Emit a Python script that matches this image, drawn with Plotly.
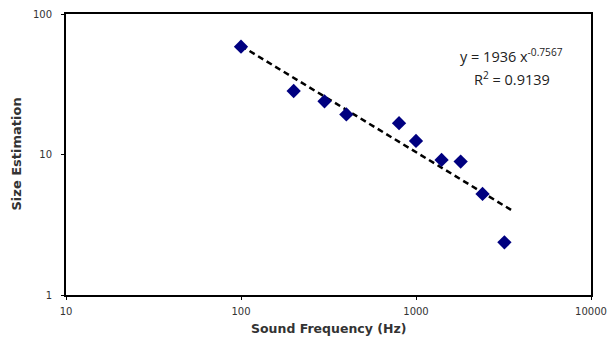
import numpy as np
import plotly.graph_objects as go

freq_hz = [100, 200, 300, 400, 800, 1000, 1400, 1800, 2400, 3200]
size_est = [58.5, 28.3, 23.9, 19.3, 16.7, 12.5, 9.15, 8.9, 5.24, 2.37]
fit_a = 1936
fit_b = -0.7567
r_squared = 0.9139
fit_range = [100, 3500]
x_ticks = [10, 100, 1000, 10000]
y_ticks = [1, 10, 100]

fx = np.logspace(np.log10(fit_range[0]), np.log10(fit_range[1]), 200)
fy = fit_a * fx ** fit_b

fig = go.Figure()
fig.add_trace(go.Scatter(x=fx, y=fy, mode="lines",
                         line=dict(color="black", width=2.5, dash="6px,4px"),
                         hoverinfo="skip", showlegend=False))
fig.add_trace(go.Scatter(x=freq_hz, y=size_est, mode="markers",
                         marker=dict(symbol="diamond", size=11, color="#000080",
                                     line=dict(width=0)),
                         showlegend=False))

axis_common = dict(showline=True, linecolor="black", linewidth=2, mirror=True,
                   showgrid=False, zeroline=False, ticks="outside", ticklen=3,
                   tickcolor="black", tickwidth=1, automargin=False,
                   tickfont=dict(family="DejaVu Sans", size=10, color="#333333"))
fig.update_xaxes(type="log", range=[1, 4], tickvals=x_ticks,
                 ticktext=[str(v) for v in x_ticks], ticklabelstandoff=3,
                 **axis_common)
fig.update_yaxes(type="log", range=[0, 2], tickvals=y_ticks,
                 ticktext=[str(v) for v in y_ticks], ticklabelstandoff=7,
                 **axis_common)

fig.add_annotation(xref="paper", yref="paper", x=0.5, y=0, yshift=-33,
                   text="<b>Sound Frequency (Hz)</b>", showarrow=False,
                   font=dict(family="DejaVu Sans", size=12.5, color="#333333"),
                   xanchor="center", yanchor="middle")
fig.add_annotation(xref="paper", yref="paper", x=0, y=0.5, xshift=-50,
                   text="<b>Size Estimation</b>", showarrow=False, textangle=-90,
                   font=dict(family="DejaVu Sans", size=13, color="#333333"),
                   xanchor="center", yanchor="middle")
fig.add_annotation(xref="paper", yref="paper", x=0.8495, y=0.854,
                   text=f"y = {fit_a} x<sup>{fit_b}</sup>",
                   showarrow=False, xanchor="center", yanchor="middle",
                   font=dict(family="Open Sans", size=14.5, color="#222222"))
fig.add_annotation(xref="paper", yref="paper", x=0.8495, y=0.772,
                   text=f"R<sup>2</sup> = {r_squared}",
                   showarrow=False, xanchor="center", yanchor="middle",
                   font=dict(family="Open Sans", size=14.5, color="#222222"))

fig.update_layout(width=616, height=341, margin=dict(l=66, r=25, t=14, b=46),
                  plot_bgcolor="white", paper_bgcolor="white")
fig.write_html("out.html", config={"displayModeBar": False},
               post_script="document.body.style.margin='0';")
